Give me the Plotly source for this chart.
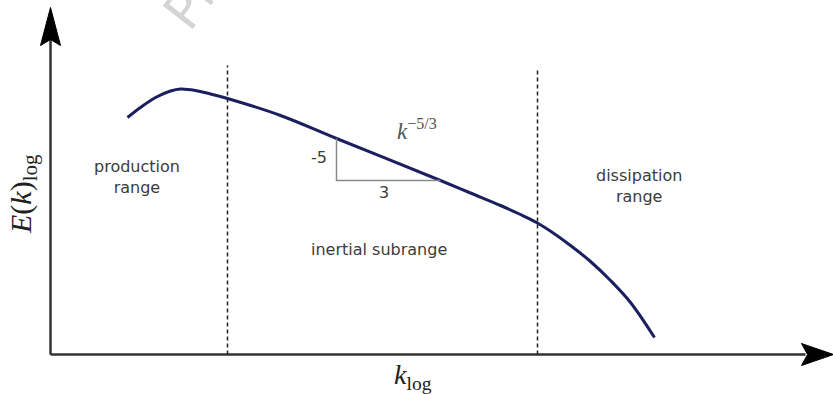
import plotly.graph_objects as go

# Schematic energy spectrum (log k vs log E), units
k_vals = [77, 90, 105, 120, 130, 145, 160, 177, 230, 286, 390, 420, 450, 470, 486, 502, 520, 540, 560, 580, 604]
E_vals = [237, 247, 257, 263.5, 265.5, 264, 260.5, 256, 239, 216, 174, 161.5, 149, 140, 132, 122, 109, 93, 74, 52, 17]

# range boundaries (dashed lines)
bound_k = [177, 487]
bound_top = [289, 286]

# slope triangle
tri_k = [286, 286, 390]
tri_E = [216, 174, 174]

# axis extents
x_axis_end = 783
y_axis_end = 347

# labels
region_labels = ["production<br>range", "inertial subrange", "dissipation<br>range"]
region_k = [86, 328, 588]
region_E = [178, 105, 169]

TEXT = "#3c3c3c"
fig = go.Figure()

fig.add_trace(go.Scatter(x=k_vals, y=E_vals, mode="lines", line=dict(color="#1b1f5e", width=3, shape="spline"),
                         hoverinfo="skip", showlegend=False))
for bk, bt in zip(bound_k, bound_top):
    fig.add_trace(go.Scatter(x=[bk, bk], y=[0, bt], mode="lines",
                             line=dict(color="#222", width=1.5, dash="4px,3px"),
                             hoverinfo="skip", showlegend=False))
fig.add_trace(go.Scatter(x=tri_k, y=tri_E, mode="lines", line=dict(color="#8a8a8a", width=1.5),
                         hoverinfo="skip", showlegend=False))

# axes with arrows
fig.add_shape(type="line", x0=0, y0=0, x1=x_axis_end - 28, y1=0, line=dict(color="#333", width=2.5), layer="below")
fig.add_shape(type="line", x0=0, y0=0, x1=0, y1=y_axis_end - 30, line=dict(color="#333", width=2.5), layer="below")
ya = y_axis_end
fig.add_shape(type="path", path=f"M 0,{ya} L -10,{ya-38} L 0,{ya-32} L 10,{ya-38} Z",
              fillcolor="black", line=dict(color="black", width=1))
xa = x_axis_end
fig.add_shape(type="path", path=f"M {xa},0 L {xa-32},11 L {xa-26},0 L {xa-32},-11 Z",
              fillcolor="black", line=dict(color="black", width=1))

ann = []
for t, x, y in zip(region_labels, region_k, region_E):
    ann.append(dict(x=x, y=y, text=t, showarrow=False, font=dict(family="DejaVu Sans", size=16, color=TEXT)))
ann.append(dict(x=268, y=197, text="-5", showarrow=False, font=dict(family="DejaVu Sans", size=16, color=TEXT)))
ann.append(dict(x=333, y=162, text="3", showarrow=False, font=dict(family="DejaVu Sans", size=16, color=TEXT)))
ann.append(dict(x=366, y=225, text="<i>k</i><sup>−5/3</sup>", showarrow=False,
                font=dict(family="Liberation Serif", size=23, color="#555")))
ann.append(dict(x=-28, y=160, text="<i>E</i>(<i>k</i>)<sub>log</sub>", textangle=-90, showarrow=False,
                font=dict(family="Liberation Serif", size=30, color="#222")))
ann.append(dict(x=362, y=-22, text="<i>k</i><sub>log</sub>", showarrow=False,
                font=dict(family="Liberation Serif", size=28, color="#222")))
# faint watermark
ann.append(dict(x=140, y=353, text="Pr", textangle=-52, showarrow=False, xanchor="center", yanchor="middle",
                font=dict(family="DejaVu Sans", size=52, color="rgba(0,0,0,0.17)")))

fig.update_layout(
    width=833, height=394, margin=dict(l=0, r=0, t=0, b=0),
    paper_bgcolor="white", plot_bgcolor="white",
    xaxis=dict(range=[-50.5, 782.5], visible=False, fixedrange=True),
    yaxis=dict(range=[-39.5, 354.5], visible=False, fixedrange=True),
    annotations=ann, showlegend=False,
)
fig.write_html("out.html", config={"displayModeBar": False},
               post_script="document.body.style.margin='0px'; document.body.style.overflow='hidden';")
